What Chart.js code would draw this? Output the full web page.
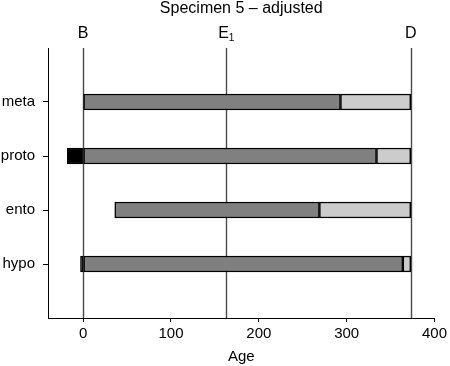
<!DOCTYPE html>
<html>
<head>
<meta charset="utf-8">
<script src="https://cdn.jsdelivr.net/npm/chart.js@4"></script>
<style>
  html, body { margin: 0; padding: 0; background: #fff; }
  #wrap { width: 450px; height: 366px; position: relative; }
</style>
</head>
<body>
<div id="wrap"><canvas id="c"></canvas></div>
<script>
// ---- data ----
const chartTitle = 'Specimen 5 \u2013 adjusted';
const axisTitle = 'Age';
const categories = ['meta', 'proto', 'ento', 'hypo'];
const preStart  = [null, -18, null, -3];   // black segment start (ends at segStart)
const segStart  = [0, 0, 36, 0];           // dark grey start
const segSplit  = [293, 334, 269, 364];    // dark -> light grey
const segEnd    = [373, 373, 373, 373];    // light grey end
const markerNames = ['B', 'E', 'D'];
const markerSubs  = ['', '1', ''];
const markerAges  = [0, 163, 373];
const xTicks = [0, 100, 200, 300, 400];
const xMin = -40, xMax = 400;

const FONT = 'Liberation Sans, Arial, Helvetica, sans-serif';
const pos = i => categories.length - i;

function segData(a, b) {
  const out = [];
  categories.forEach((c, i) => {
    if (a[i] !== null && b[i] !== null) out.push({ y: pos(i), x: [a[i], b[i]] });
  });
  return out;
}

const markerPlugin = {
  id: 'markers',
  beforeDatasetsDraw(chart) {
    const { ctx, chartArea, scales } = chart;
    ctx.save();
    ctx.strokeStyle = '#4a4a4a';
    ctx.lineWidth = 1.4;
    markerAges.forEach(v => {
      const x = Math.round(scales.x.getPixelForValue(v)) + 0.5;
      ctx.beginPath();
      ctx.moveTo(x, chartArea.top);
      ctx.lineTo(x, chartArea.bottom);
      ctx.stroke();
    });
    ctx.restore();
  },
  afterDraw(chart) {
    const { ctx, chartArea, scales } = chart;
    ctx.save();
    ctx.fillStyle = '#000';
    ctx.textBaseline = 'alphabetic';
    // title
    ctx.font = '16px ' + FONT;
    ctx.textAlign = 'center';
    ctx.fillText(chartTitle, (chartArea.left + chartArea.right) / 2, 13);
    // marker labels
    markerNames.forEach((n, i) => {
      const x = scales.x.getPixelForValue(markerAges[i]);
      ctx.font = '16px ' + FONT;
      const w1 = ctx.measureText(n).width;
      ctx.font = '10px ' + FONT;
      const w2 = markerSubs[i] ? ctx.measureText(markerSubs[i]).width : 0;
      const start = x - (w1 + w2) / 2;
      ctx.textAlign = 'left';
      ctx.font = '16px ' + FONT;
      ctx.fillText(n, start, 38);
      if (markerSubs[i]) {
        ctx.font = '10px ' + FONT;
        ctx.fillText(markerSubs[i], start + w1, 41);
      }
    });
    ctx.restore();
  }
};

const common = { borderColor: '#000', borderWidth: 1.5, borderSkipped: false, barThickness: 16, grouped: false };

new Chart(document.getElementById('c'), {
  type: 'bar',
  data: {
    datasets: [
      Object.assign({ label: 'pre', data: segData(preStart, segStart), backgroundColor: '#000' }, common),
      Object.assign({ label: 'main', data: segData(segStart, segSplit), backgroundColor: '#808080' }, common),
      Object.assign({ label: 'late', data: segData(segSplit, segEnd), backgroundColor: '#cccccc' }, common)
    ]
  },
  options: {
    indexAxis: 'y',
    responsive: true,
    maintainAspectRatio: false,
    animation: false,
    layout: { padding: { top: 48, right: 15, left: 0, bottom: 0 } },
    plugins: { legend: { display: false }, tooltip: { enabled: false }, title: { display: false } },
    scales: {
      x: {
        type: 'linear',
        min: xMin, max: xMax,
        offset: false,
        afterBuildTicks: s => { s.ticks = xTicks.map(v => ({ value: v })); },
        afterFit: s => { s.height = 48; },
        grid: { drawOnChartArea: false, drawTicks: true, tickLength: 4, color: '#000', offset: false },
        border: { display: true, color: '#000', width: 1 },
        ticks: { color: '#000', font: { family: FONT, size: 15 }, padding: 3, maxRotation: 0 },
        title: { display: true, text: axisTitle, color: '#000', font: { family: FONT, size: 15 }, padding: { top: 0, bottom: 0 } }
      },
      y: {
        type: 'linear',
        min: 0, max: categories.length + 1,
        offset: false,
        afterBuildTicks: s => { s.ticks = categories.map((c, i) => ({ value: pos(i) })); },
        afterFit: s => { s.width = 48; },
        grid: { drawOnChartArea: false, drawTicks: true, tickLength: 5, color: '#000', offset: false },
        border: { display: true, color: '#000', width: 1 },
        ticks: {
          color: '#000', font: { family: FONT, size: 15 }, padding: 8,
          callback: v => categories[categories.length - v]
        }
      }
    }
  },
  plugins: [markerPlugin]
});
</script>
</body>
</html>
